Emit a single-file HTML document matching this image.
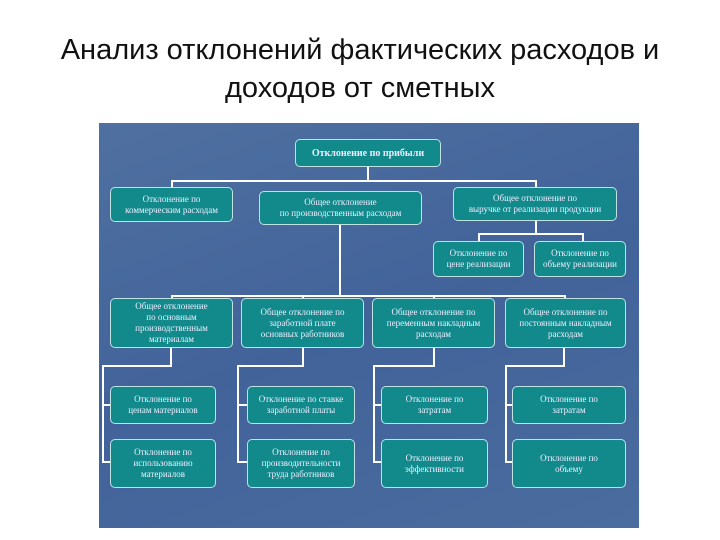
<!DOCTYPE html>
<html><head><meta charset="utf-8"><style>
body{margin:0;width:720px;height:540px;background:#fff;position:relative;overflow:hidden;font-family:"Liberation Sans",sans-serif}
.t{position:absolute;left:0;width:720px;text-align:center;font-size:29px;color:#111;line-height:38px}
.p{position:absolute;left:99px;top:123px;width:540px;height:405px;background:linear-gradient(160deg,#4f70a0,#42639a 50%,#4a6c9e)}
.b{position:absolute;background:#128a8c;border:1px solid #bfe3e3;border-radius:5px;color:#eef;font-family:"Liberation Serif",serif;font-size:9px;line-height:11px;display:flex;align-items:center;justify-content:center;text-align:center;box-sizing:border-box;padding:0 2px}
.l{position:absolute;background:#fff}
</style></head><body>
<div class="t" style="top:31px">Анализ отклонений фактических расходов и</div>
<div class="t" style="top:69px">доходов от сметных</div>
<div class="p"></div>
<div class="l" style="left:367px;top:167px;width:2px;height:15px"></div>
<div class="l" style="left:171px;top:180px;width:366px;height:2px"></div>
<div class="l" style="left:171px;top:180px;width:2px;height:8px"></div>
<div class="l" style="left:535px;top:180px;width:2px;height:8px"></div>
<div class="l" style="left:535px;top:221px;width:2px;height:14px"></div>
<div class="l" style="left:478px;top:233px;width:106px;height:2px"></div>
<div class="l" style="left:478px;top:233px;width:2px;height:9px"></div>
<div class="l" style="left:582px;top:233px;width:2px;height:9px"></div>
<div class="l" style="left:339px;top:225px;width:2px;height:72px"></div>
<div class="l" style="left:171px;top:295px;width:395px;height:2px"></div>
<div class="l" style="left:171px;top:295px;width:2px;height:4px"></div>
<div class="l" style="left:302px;top:295px;width:2px;height:4px"></div>
<div class="l" style="left:433px;top:295px;width:2px;height:4px"></div>
<div class="l" style="left:564px;top:295px;width:2px;height:4px"></div>

<div class="l" style="left:170px;top:348px;width:2px;height:19px"></div>
<div class="l" style="left:102px;top:365px;width:70px;height:2px"></div>
<div class="l" style="left:102px;top:365px;width:2px;height:98px"></div>
<div class="l" style="left:102px;top:404px;width:8px;height:2px"></div>
<div class="l" style="left:102px;top:461px;width:8px;height:2px"></div>

<div class="l" style="left:302px;top:348px;width:2px;height:19px"></div>
<div class="l" style="left:237px;top:365px;width:67px;height:2px"></div>
<div class="l" style="left:237px;top:365px;width:2px;height:98px"></div>
<div class="l" style="left:237px;top:404px;width:10px;height:2px"></div>
<div class="l" style="left:237px;top:461px;width:10px;height:2px"></div>

<div class="l" style="left:433px;top:348px;width:2px;height:19px"></div>
<div class="l" style="left:373px;top:365px;width:62px;height:2px"></div>
<div class="l" style="left:373px;top:365px;width:2px;height:98px"></div>
<div class="l" style="left:373px;top:404px;width:8px;height:2px"></div>
<div class="l" style="left:373px;top:461px;width:8px;height:2px"></div>

<div class="l" style="left:563px;top:348px;width:2px;height:19px"></div>
<div class="l" style="left:505px;top:365px;width:60px;height:2px"></div>
<div class="l" style="left:505px;top:365px;width:2px;height:98px"></div>
<div class="l" style="left:505px;top:404px;width:7px;height:2px"></div>
<div class="l" style="left:505px;top:461px;width:7px;height:2px"></div>

<div class="b" style="left:295px;top:139px;width:146px;height:28px;font-size:10px;font-weight:bold">Отклонение по прибыли</div>
<div class="b" style="left:110px;top:187px;width:123px;height:35px">Отклонение по<br>коммерческим расходам</div>
<div class="b" style="left:259px;top:191px;width:163px;height:34px">Общее отклонение<br>по производственным расходам</div>
<div class="b" style="left:453px;top:187px;width:164px;height:34px">Общее отклонение по<br>выручке от реализации продукции</div>
<div class="b" style="left:433px;top:241px;width:91px;height:36px">Отклонение по<br>цене реализации</div>
<div class="b" style="left:534px;top:241px;width:92px;height:36px">Отклонение по<br>объему реализации</div>

<div class="b" style="left:110px;top:298px;width:123px;height:50px">Общее отклонение<br>по основным<br>производственным<br>материалам</div>
<div class="b" style="left:241px;top:298px;width:123px;height:50px">Общее отклонение по<br>заработной плате<br>основных работников</div>
<div class="b" style="left:372px;top:298px;width:123px;height:50px">Общее отклонение по<br>переменным накладным<br>расходам</div>
<div class="b" style="left:505px;top:298px;width:121px;height:50px">Общее отклонение по<br>постоянным накладным<br>расходам</div>

<div class="b" style="left:110px;top:386px;width:106px;height:38px">Отклонение по<br>ценам материалов</div>
<div class="b" style="left:247px;top:386px;width:108px;height:38px">Отклонение по ставке<br>заработной платы</div>
<div class="b" style="left:381px;top:386px;width:107px;height:38px">Отклонение по<br>затратам</div>
<div class="b" style="left:512px;top:386px;width:114px;height:38px">Отклонение по<br>затратам</div>

<div class="b" style="left:110px;top:439px;width:106px;height:49px">Отклонение по<br>использованию<br>материалов</div>
<div class="b" style="left:247px;top:439px;width:108px;height:49px">Отклонение по<br>производительности<br>труда работников</div>
<div class="b" style="left:381px;top:439px;width:107px;height:49px">Отклонение по<br>эффективности</div>
<div class="b" style="left:512px;top:439px;width:114px;height:49px">Отклонение по<br>объему</div>
</body></html>
